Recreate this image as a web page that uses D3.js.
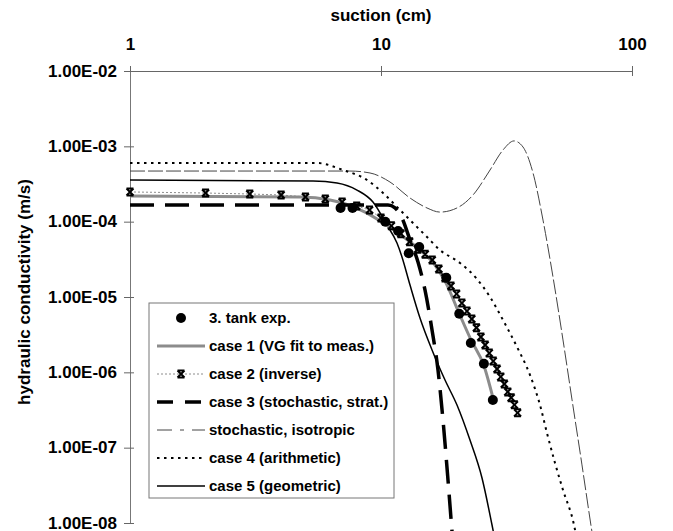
<!DOCTYPE html>
<html>
<head>
<meta charset="utf-8">
<script src="https://cdn.jsdelivr.net/npm/d3@7"></script>
<style>
  html, body { margin: 0; padding: 0; background: #fff; }
  svg { display: block; font-family: "Liberation Sans", Arial, sans-serif; font-weight: bold; }
</style>
</head>
<body>
<div id="chart"></div>
<script>
// --- DATI (suction in cm, conductivity in m/s) ---
const suctionTicks = [1, 10, 100];
const suctionLabels = ["1", "10", "100"];
const condTicks = [1e-2, 1e-3, 1e-4, 1e-5, 1e-6, 1e-7, 1e-8];
const condLabels = ["1.00E-02", "1.00E-03", "1.00E-04", "1.00E-05", "1.00E-06", "1.00E-07", "1.00E-08"];

// 3. tank exp. (punti misurati)
const tankExp = [
    [6.9, 1.52e-4], [7.7, 1.52e-4], [10.4, 1.0e-4], [11.7, 7.5e-5], [12.9, 3.8e-5],
    [14.2, 4.6e-5], [18.2, 1.8e-5], [20.5, 6.0e-6], [22.8, 2.45e-6], [25.7, 1.3e-6], [27.9, 4.3e-7]
];

// case 1 (VG fit to meas.)
const case1 = [
    [1, 2.19e-4], [4.76, 2.13e-4], [6.26, 1.94e-4], [7.19, 1.72e-4], [8.64, 1.34e-4],
    [10.37, 9.3e-5], [12.46, 6.07e-5], [14.3, 4.2e-5], [16.41, 2.66e-5], [18.16, 1.53e-5],
    [20.45, 6.13e-6], [22.84, 2.69e-6], [25.73, 1.21e-6], [27.94, 4.56e-7]
];

// case 2 (inverse) - un punto per ogni cm
const case2 = [
    [1, 2.48e-4], [2, 2.40e-4], [3, 2.33e-4], [4, 2.26e-4], [5, 2.13e-4], [6, 2.0e-4],
    [7, 1.82e-4], [8, 1.61e-4], [9, 1.43e-4], [10, 1.12e-4], [11, 8.8e-5], [12, 6.9e-5],
    [13, 5.4e-5], [14, 4.3e-5], [15, 3.7e-5], [16, 3.1e-5], [17, 2.35e-5], [18, 1.79e-5],
    [19, 1.40e-5], [20, 1.10e-5], [21, 8.3e-6], [22, 6.5e-6], [23, 5.1e-6], [24, 3.9e-6],
    [25, 2.94e-6], [26, 2.31e-6], [27, 1.80e-6], [28, 1.41e-6], [29, 1.11e-6], [30, 8.7e-7],
    [31, 7.0e-7], [32, 5.5e-7], [33, 4.6e-7], [34, 3.7e-7], [35, 2.9e-7]
];

// case 3 (stochastic, strat.)
const case3 = [
    [1, 1.66e-4], [10.66, 1.66e-4], [11.37, 1.52e-4], [12.12, 1.12e-4], [13.05, 5.7e-5],
    [14.04, 2.91e-5], [14.97, 1.24e-5], [15.97, 3.65e-6], [16.87, 1.07e-6], [17.66, 2.33e-7],
    [18.49, 3.72e-8], [19.18, 7.8e-9], [19.6, 3.2e-9]
];

// stochastic, isotropic
const stochIso = [
    [1, 4.7e-4], [7.52, 4.7e-4], [9.04, 4.43e-4], [10.86, 3.36e-4], [13.05, 2.06e-4],
    [15.25, 1.52e-4], [17.18, 1.34e-4], [20.08, 1.52e-4], [23.26, 2.26e-4], [27.19, 4.85e-4],
    [30.62, 8.94e-4], [33.88, 1.18e-3], [36.79, 9.8e-4], [40.33, 4.43e-4], [44.2, 1.05e-4],
    [48.45, 1.84e-5], [53.1, 2.69e-6], [57.7, 4.3e-7], [63.2, 5.9e-8], [68.6, 9.4e-9], [70.6, 5.1e-9]
];

// case 4 (arithmetic)
const case4 = [
    [1, 6.0e-4], [5.56, 6.0e-4], [7.06, 4.85e-4], [8.8, 3.57e-4], [10.19, 2.4e-4],
    [11.9, 1.43e-4], [13.41, 9.6e-5], [15.25, 6.26e-5], [17.18, 4.2e-5], [20.64, 2.83e-5],
    [24.13, 1.73e-5], [27.19, 1.0e-5], [30.62, 4.95e-6], [34.83, 2.17e-6], [39.24, 9.2e-7],
    [43.0, 3.68e-7], [45.86, 1.56e-7], [49.35, 6.25e-8], [53.1, 2.74e-8], [58.75, 9.4e-9], [60.4, 5.9e-9]
];

// case 5 (geometric)
const case5 = [
    [1, 3.57e-4], [5.36, 3.47e-4], [6.68, 3.26e-4], [8.02, 2.63e-4], [9.29, 1.82e-4],
    [10.56, 9.0e-5], [11.58, 5.2e-5], [12.12, 3.4e-5], [13.05, 1.44e-5], [14.3, 5.26e-6],
    [15.97, 1.98e-6], [17.99, 7.9e-7], [20.08, 3.68e-7], [22.62, 1.26e-7], [25.26, 3.95e-8],
    [27.69, 9.4e-9], [28.72, 5.1e-9]
];

const legendLabels = [
    "3. tank exp.", "case 1 (VG fit to meas.)", "case 2 (inverse)", "case 3 (stochastic, strat.)",
    "stochastic, isotropic", "case 4 (arithmetic)", "case 5 (geometric)"
];

// --- STILI DELLE SERIE ---
const styles = {
    case1:    { stroke: "#8c8c8c", width: 3,   dash: null },
    case2:    { stroke: "#8c8c8c", width: 1,   dash: "2,2" },
    case3:    { stroke: "#000",    width: 3.5, dash: "24,11" },
    stochIso: { stroke: "#444",    width: 1,   dash: "15,3" },
    case4:    { stroke: "#000",    width: 2,   dash: "2.5,4.5" },
    case5:    { stroke: "#000",    width: 1.5, dash: null }
};

const width = 673, height = 531;

const svg = d3.select("#chart").append("svg")
    .attr("width", width)
    .attr("height", height);

// Scale logaritmiche
const x = d3.scaleLog().domain([1, 100]).range([130, 632]);
const y = d3.scaleLog().domain([1e-8, 1e-2]).range([523, 71]);

// --- ASSI ---
const xAxis = d3.axisTop(x)
    .tickValues(suctionTicks)
    .tickFormat((d, i) => suctionLabels[i])
    .tickSizeInner(5).tickSizeOuter(0).tickPadding(16);

const gx = svg.append("g").attr("transform", "translate(0,71)").call(xAxis);
gx.select(".domain").attr("stroke", "#666");
gx.selectAll(".tick line").attr("stroke", "#666").attr("y1", 5);
gx.selectAll(".tick text")
    .attr("fill", "#000").style("font-size", "17px").style("font-weight", "bold")
    .attr("font-family", null);

const yAxis = d3.axisLeft(y)
    .tickValues(condTicks)
    .tickFormat((d, i) => condLabels[i])
    .tickSizeInner(6).tickSizeOuter(0).tickPadding(7);

const gy = svg.append("g").attr("transform", "translate(130,0)").call(yAxis);
gy.select(".domain").attr("stroke", "#777");
gy.selectAll(".tick line").attr("stroke", "#666").attr("x1", 4);
gy.selectAll(".tick text")
    .attr("fill", "#000").style("font-size", "17px").style("font-weight", "bold")
    .attr("font-family", null)
    .attr("dy", "0.3em");

// Titoli
svg.append("text")
    .attr("x", 381).attr("y", 21)
    .attr("text-anchor", "middle")
    .style("font-size", "17px")
    .text("suction (cm)");

svg.append("text")
    .attr("transform", "translate(30,292) rotate(-90)")
    .attr("text-anchor", "middle")
    .style("font-size", "17px")
    .text("hydraulic conductivity (m/s)");

// --- CURVE ---
const line = d3.line()
    .x(d => x(d[0]))
    .y(d => y(d[1]))
    .curve(d3.curveMonotoneX);

const straight = d3.line()
    .x(d => x(d[0]))
    .y(d => y(d[1]));

function drawSeries(data, st, gen) {
    svg.append("path")
        .datum(data)
        .attr("fill", "none")
        .attr("stroke", st.stroke)
        .attr("stroke-width", st.width)
        .attr("stroke-dasharray", st.dash)
        .attr("d", gen || line);
}

drawSeries(stochIso, styles.stochIso);
drawSeries(case4, styles.case4);
drawSeries(case5, styles.case5);
drawSeries(case1, styles.case1);
drawSeries(case2, styles.case2, straight);
drawSeries(case3, styles.case3);

// Marker "x" con barrette (case 2)
const xMark = "M-3.5,-3.5L3.5,3.5M3.5,-3.5L-3.5,3.5M-3.5,-3.5H3.5M-3.5,3.5H3.5";

svg.append("g")
    .selectAll("path")
    .data(case2)
    .join("path")
    .attr("transform", d => `translate(${x(d[0])},${y(d[1])})`)
    .attr("d", xMark)
    .attr("fill", "none")
    .attr("stroke", "#000")
    .attr("stroke-width", 2);

// Punti misurati
svg.append("g")
    .selectAll("circle")
    .data(tankExp)
    .join("circle")
    .attr("cx", d => x(d[0]))
    .attr("cy", d => y(d[1]))
    .attr("r", 5)
    .attr("fill", "#000");

// --- LEGENDA ---
const legend = svg.append("g");

legend.append("rect")
    .attr("x", 149).attr("y", 303)
    .attr("width", 245).attr("height", 195)
    .attr("fill", "#fff")
    .attr("stroke", "#777")
    .attr("stroke-width", 1);

const legendY = i => 318 + i * 28;
const sampleStyles = [null, styles.case1, styles.case2, styles.case3, styles.stochIso, styles.case4, styles.case5];

legendLabels.forEach((label, i) => {
    const yy = legendY(i);
    const st = sampleStyles[i];
    if (st) {
        legend.append("line")
            .attr("x1", 157).attr("x2", 205)
            .attr("y1", yy).attr("y2", yy)
            .attr("stroke", st.stroke)
            .attr("stroke-width", st.width)
            .attr("stroke-dasharray", i === 3 ? "16,12" : (i === 4 ? "15,8,4,8" : st.dash));
    }
    if (i === 0) {
        legend.append("circle").attr("cx", 181).attr("cy", yy).attr("r", 5).attr("fill", "#000");
    }
    if (i === 2) {
        legend.append("path")
            .attr("transform", `translate(181,${yy})`)
            .attr("d", xMark)
            .attr("fill", "none").attr("stroke", "#000").attr("stroke-width", 2);
    }
    legend.append("text")
        .attr("x", 209).attr("y", yy)
        .attr("dy", "0.35em")
        .style("font-size", "15px")
        .text(label);
});
</script>
</body>
</html>
